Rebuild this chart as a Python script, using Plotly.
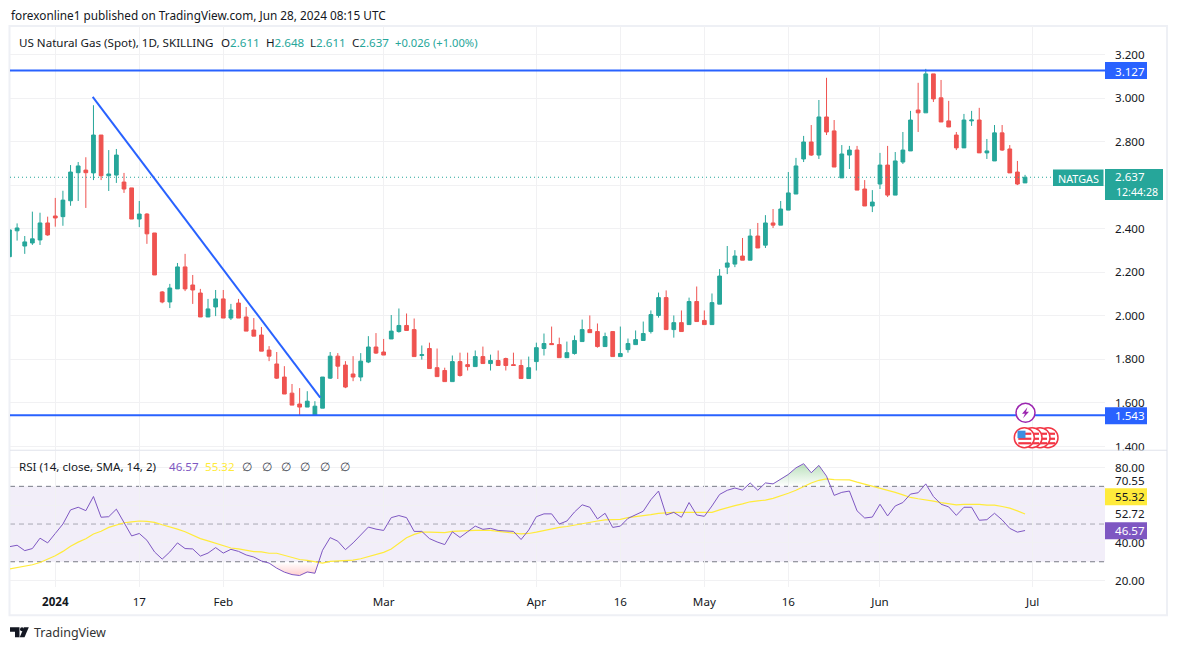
# US Natural Gas daily candles with RSI pane, TradingView look
import numpy as np
import plotly.graph_objects as go

W, H = 1177, 650

opens = [2.272,2.391,2.321,2.335,2.349,2.427,2.459,2.456,2.529,2.658,2.670,2.657,2.831,2.644,2.647,2.615,2.588,2.445,2.468,2.381,
         2.110,2.064,2.124,2.225,2.142,2.105,1.995,2.041,2.078,1.990,2.059,1.995,1.935,1.912,1.843,1.779,1.719,1.645,1.595,1.581,
         1.544,1.576,1.714,1.815,1.774,1.733,1.719,1.788,1.857,1.834,1.894,1.928,1.956,1.937,1.818,1.850,1.762,1.749,1.698,1.790,
         1.776,1.767,1.813,1.781,1.795,1.804,1.776,1.772,1.712,1.790,1.850,1.873,1.868,1.808,1.827,1.882,1.937,1.928,1.859,1.928,
         1.813,1.845,1.868,1.887,1.928,2.002,2.084,1.937,1.969,1.960,2.066,1.979,1.960,2.054,2.224,2.238,2.275,2.256,2.367,2.325,
         2.427,2.417,2.486,2.560,2.721,2.799,2.739,2.914,2.850,2.634,2.739,2.762,2.583,2.505,2.606,2.693,2.555,2.707,2.758,2.946,
         2.933,3.112,3.002,2.896,2.831,2.772,2.896,2.900,2.749,2.712,2.841,2.767,2.661,2.611]
highs = [2.395,2.425,2.367,2.479,2.474,2.456,2.542,2.575,2.693,2.707,2.729,2.968,2.831,2.762,2.767,2.657,2.588,2.528,2.472,2.381,
         2.114,2.147,2.243,2.285,2.188,2.124,2.078,2.119,2.119,2.055,2.078,2.041,1.990,1.949,1.861,1.834,1.769,1.687,1.668,1.654,
         1.608,1.719,1.834,1.829,1.792,1.815,1.829,1.907,1.921,1.894,2.004,2.034,2.011,1.988,1.864,1.877,1.850,1.762,1.818,1.831,
         1.831,1.841,1.859,1.822,1.841,1.808,1.831,1.799,1.813,1.877,1.919,1.951,1.900,1.882,1.910,1.983,2.002,1.965,1.923,1.928,
         1.951,1.896,1.933,1.974,2.025,2.107,2.117,2.002,2.025,2.084,2.135,2.025,2.103,2.215,2.321,2.302,2.358,2.399,2.427,2.463,
         2.491,2.528,2.661,2.726,2.827,2.877,2.992,3.094,2.900,2.785,2.781,2.781,2.624,2.578,2.749,2.781,2.753,2.845,2.942,3.071,
         3.135,3.112,3.084,2.988,2.845,2.928,2.942,2.956,2.813,2.877,2.877,2.785,2.712,2.648]
lows = [2.272,2.346,2.285,2.326,2.326,2.368,2.410,2.414,2.506,2.528,2.496,2.624,2.624,2.574,2.611,2.565,2.445,2.408,2.331,2.188,
        2.058,2.036,2.124,2.114,2.055,1.995,1.995,1.999,1.990,1.981,1.990,1.930,1.907,1.838,1.792,1.710,1.641,1.590,1.544,1.581,
        1.544,1.576,1.710,1.710,1.668,1.700,1.700,1.783,1.825,1.820,1.894,1.923,1.933,1.813,1.799,1.758,1.721,1.698,1.698,1.721,
        1.749,1.767,1.781,1.749,1.772,1.749,1.772,1.712,1.712,1.749,1.818,1.868,1.808,1.808,1.822,1.882,1.923,1.854,1.859,1.813,
        1.813,1.831,1.868,1.887,1.919,1.992,1.937,1.900,1.928,1.960,1.974,1.960,1.960,2.054,2.192,2.224,2.256,2.256,2.312,2.312,
        2.404,2.417,2.486,2.560,2.707,2.735,2.721,2.831,2.684,2.634,2.675,2.578,2.505,2.477,2.583,2.546,2.555,2.698,2.758,2.845,
        2.933,2.983,2.891,2.868,2.762,2.772,2.873,2.749,2.721,2.712,2.758,2.657,2.601,2.611]
closes = [2.395,2.404,2.340,2.354,2.427,2.372,2.450,2.532,2.661,2.689,2.658,2.831,2.644,2.652,2.739,2.583,2.445,2.468,2.377,2.188,
          2.064,2.128,2.225,2.124,2.119,1.995,2.032,2.078,1.990,2.027,1.990,1.930,1.907,1.838,1.815,1.714,1.641,1.590,1.581,1.608,
          1.585,1.719,1.815,1.769,1.673,1.719,1.792,1.857,1.829,1.820,1.930,1.956,1.933,1.813,1.822,1.758,1.721,1.698,1.790,1.726,
          1.767,1.813,1.781,1.795,1.772,1.772,1.772,1.712,1.762,1.854,1.873,1.868,1.808,1.831,1.887,1.937,1.923,1.859,1.905,1.813,
          1.827,1.873,1.891,1.919,2.006,2.084,1.937,1.969,1.928,2.066,1.974,1.960,2.061,2.183,2.243,2.275,2.256,2.367,2.312,2.427,
          2.417,2.491,2.565,2.689,2.799,2.739,2.914,2.845,2.684,2.744,2.762,2.578,2.505,2.523,2.693,2.555,2.712,2.762,2.900,2.933,
          3.112,2.997,2.891,2.868,2.772,2.900,2.900,2.749,2.758,2.841,2.762,2.657,2.606,2.637]

rsi = [38.0,38.75,35.9,37.0,42.5,40.0,45.0,50.0,57.5,58.9,57.1,64.6,53.6,53.9,57.9,50.4,43.7,45.0,41.4,35.2,
       31.4,35.2,40.0,37.0,36.8,33.0,34.6,37.5,34.6,36.6,35.5,33.6,32.5,30.4,29.3,26.6,24.5,23.2,22.7,24.6,
       23.9,36.1,42.8,40.9,36.4,40.0,44.1,48.4,47.3,46.6,53.4,54.5,53.4,46.1,46.1,42.3,40.5,39.1,45.9,42.9,
       45.9,48.9,47.2,47.7,46.6,46.2,46.1,41.8,46.8,53.9,55.4,55.4,50.0,51.6,56.4,60.2,58.9,52.7,55.7,48.2,
       48.9,53.0,54.8,56.8,62.9,67.5,54.8,56.2,53.6,61.4,54.8,54.1,59.6,65.7,67.9,69.1,68.0,71.8,67.9,71.8,
       71.3,73.9,76.3,79.8,82.0,77.2,81.1,75.4,65.2,66.8,67.5,57.0,53.2,53.7,60.5,54.3,59.6,61.4,65.9,66.6,
       71.3,64.6,60.5,59.1,54.6,58.9,58.9,52.0,52.3,55.7,52.2,47.7,45.7,46.57]
rsi_ma = [26.2,26.9,27.5,28.4,29.6,31.2,33.2,35.5,38.2,40.4,42.2,44.7,46.2,48.2,49.6,50.7,51.2,51.6,51.4,50.9,
          49.6,48.6,47.3,45.9,44.1,42.3,41.1,39.8,38.2,37.3,36.8,36.1,35.4,35.2,34.5,34.5,33.4,32.3,31.2,30.7,
          30.0,29.3,30.2,30.5,30.5,30.9,31.6,32.7,33.7,35.0,36.8,39.6,42.7,44.5,45.7,45.7,45.5,45.5,46.1,46.4,
          46.6,46.6,46.6,46.6,46.1,45.5,45.2,44.8,45.0,45.7,46.6,47.7,48.2,48.7,49.5,50.2,51.1,51.6,52.2,52.3,
          52.5,53.4,53.9,54.3,55.0,55.7,56.1,56.2,56.2,56.2,56.1,56.1,56.2,57.5,58.8,59.8,60.7,61.8,62.3,62.7,
          63.6,64.8,66.3,67.9,70.0,71.8,73.2,73.9,73.6,73.4,73.4,72.2,71.1,70.0,69.3,67.9,66.8,65.5,64.1,63.4,
          62.9,62.2,61.4,60.7,60.2,60.4,60.5,60.4,60.0,60.0,59.3,58.4,57.0,55.32]

# bar numbers: 0 is 2 Jan 2024
bars = list(range(-6, 128))
tick_bars = [0, 11, 22, 43, 63, 74, 85, 96, 108, 128]
tick_labels = ["<b>2024</b>", "17", "Feb", "Mar", "Apr", "16", "May", "16", "Jun", "Jul"]

price_ticks = [1.4, 1.6, 1.8, 2.0, 2.2, 2.4, 2.6, 2.8, 3.0, 3.2]
# 2.600 sits behind the last price tag in the reference
price_tick_labels = ["1.400", "1.600", "1.800", "2.000", "2.200", "2.400", "", "2.800", "3.000", "3.200"]
rsi_ticks = [20, 40, 60, 80]
rsi_tick_labels = ["20.00", "40.00", "", "80.00"]

resistance = 3.127
support = 1.543
last_close = 2.637
trend_x = [4.9, 34.7]
trend_y = [3.006, 1.624]

GREEN = "#26a69a"
RED = "#ef5350"
BLUE = "#2962ff"
PURPLE = "#7e57c2"
YELLOW = "#ffeb3b"
GRID = "#f1f1f3"
EDGE = "#eef0f5"
TEXT = "#131722"
FONT = "Noto Sans"
FS = 11.6
X_RANGE = [-5.93, 137.47]
Y_FIX = 1.005  # the photographed page comes out a little short


def px(x):
    return x / W


def py(y):
    return 1 - y * Y_FIX / H


def box(x0, y0, x1, y1, fill, line=None, width=0, kind="rect"):
    return dict(type=kind, xref="paper", yref="paper", x0=px(x0), x1=px(x1), y0=py(y0), y1=py(y1),
                fillcolor=fill, line=dict(color=line or fill, width=width), layer="above")


def poly(points, fill):
    path = "M" + " L".join(f"{px(a):.5f} {py(b):.5f}" for a, b in points) + " Z"
    return dict(type="path", xref="paper", yref="paper", path=path, fillcolor=fill,
                line=dict(width=0), layer="above")


def label(x, y, text, size=FS, color=TEXT, anchor="left"):
    return dict(xref="paper", yref="paper", x=px(x), y=py(y), text=text, showarrow=False,
                xanchor=anchor, yanchor="middle", align="left", borderpad=0,
                font=dict(family=FONT, size=size, color=color))


fig = go.Figure()

fig.add_trace(go.Candlestick(
    x=bars, open=opens, high=highs, low=lows, close=closes,
    increasing=dict(line=dict(color=GREEN, width=1), fillcolor=GREEN),
    decreasing=dict(line=dict(color=RED, width=1), fillcolor=RED),
    whiskerwidth=0, showlegend=False, hoverinfo="skip",
))

line_x = [X_RANGE[0], X_RANGE[1]]
fig.add_trace(go.Scatter(x=line_x, y=[last_close, last_close], mode="lines",
                         line=dict(color=GREEN, width=1, dash="1px,3px"), showlegend=False))
fig.add_trace(go.Scatter(x=line_x, y=[resistance, resistance], mode="lines",
                         line=dict(color=BLUE, width=2), showlegend=False))
fig.add_trace(go.Scatter(x=line_x, y=[support, support], mode="lines",
                         line=dict(color=BLUE, width=2), showlegend=False))
fig.add_trace(go.Scatter(x=trend_x, y=trend_y, mode="lines",
                         line=dict(color=BLUE, width=2), showlegend=False))

# RSI gradient fills past the 70 and 30 levels
xf = np.linspace(bars[0], bars[-1], 2661)
rf = np.interp(xf, bars, rsi)
fig.add_trace(go.Scatter(x=xf, y=np.full(xf.size, 70.0), xaxis="x2", yaxis="y2", mode="lines",
                         line=dict(width=0), showlegend=False, hoverinfo="skip"))
fig.add_trace(go.Scatter(x=xf, y=np.maximum(rf, 70), xaxis="x2", yaxis="y2", mode="lines",
                         line=dict(width=0), fill="tonexty", showlegend=False, hoverinfo="skip",
                         fillgradient=dict(type="vertical", start=84, stop=70, colorscale=[
                             [0, "rgba(76,175,80,0.45)"], [1, "rgba(76,175,80,0)"]])))
fig.add_trace(go.Scatter(x=xf, y=np.full(xf.size, 30.0), xaxis="x2", yaxis="y2", mode="lines",
                         line=dict(width=0), showlegend=False, hoverinfo="skip"))
fig.add_trace(go.Scatter(x=xf, y=np.minimum(rf, 30), xaxis="x2", yaxis="y2", mode="lines",
                         line=dict(width=0), fill="tonexty", showlegend=False, hoverinfo="skip",
                         fillgradient=dict(type="vertical", start=20, stop=30, colorscale=[
                             [0, "rgba(255,82,82,0.4)"], [1, "rgba(255,82,82,0)"]])))

fig.add_trace(go.Scatter(x=bars, y=rsi_ma, xaxis="x2", yaxis="y2", mode="lines",
                         line=dict(color=YELLOW, width=1.2), showlegend=False))
fig.add_trace(go.Scatter(x=bars, y=rsi, xaxis="x2", yaxis="y2", mode="lines",
                         line=dict(color=PURPLE, width=1), showlegend=False))

shapes = [
    dict(type="rect", xref="paper", yref="y2", x0=px(10), x1=px(1105), y0=30, y1=70,
         fillcolor="rgba(126,87,194,0.1)", line=dict(width=0), layer="below"),
]
for level, col in [(70, "#787b86"), (50, "rgba(120,123,134,0.6)"), (30, "#787b86")]:
    shapes.append(dict(type="line", xref="paper", yref="y2", x0=px(10), x1=px(1105), y0=level, y1=level,
                       line=dict(color=col, width=1, dash="5px,4px"), layer="below"))

# chart frame and pane separator
shapes += [
    dict(type="rect", xref="paper", yref="paper", x0=px(9.5), x1=px(1167), y0=py(615), y1=py(26),
         line=dict(color=EDGE, width=2), fillcolor="rgba(0,0,0,0)", layer="below"),
    box(10, 449.5, 1167, 450.5, "#e0e3eb"),
]

# price tags on the right
shapes += [
    box(1105, 62, 1147, 79, BLUE),
    box(1105, 407, 1147, 424, BLUE),
    box(1053, 169.5, 1103.5, 186, GREEN),
    box(1105, 169, 1163, 200, GREEN),
    box(1105, 488, 1147, 505, YELLOW),
    box(1105, 522, 1147, 539, PURPLE),
]

# event markers
shapes.append(box(1016, 403.2, 1035, 422.2, "white", "#9c27b0", 1.5, "circle"))
shapes.append(poly([(1027.5, 407), (1022, 413.5), (1025, 413.5), (1023, 418), (1029, 411.5), (1026, 411.5)], "#9c27b0"))
for cx in [1048, 1040, 1032, 1024.3]:
    shapes.append(box(cx - 10, 427.5, cx + 10, 447.5, "white", "#f23645", 1.5, "circle"))
    for sy in [432.5, 437.5, 442]:
        shapes.append(box(cx - 6, sy, cx + 7, sy + 2.2, "#f23645"))
shapes.append(box(1017.5, 430.5, 1025.5, 438, "#3d8fe0"))

# TradingView logo
shapes += [
    poly([(10, 627), (19.5, 627), (19.5, 637), (15, 637), (15, 631.5), (10, 631.5)], TEXT),
    box(20, 627, 24, 631, TEXT, kind="circle"),
    poly([(28.8, 627), (24.5, 637), (19.7, 637), (24, 627)], TEXT),
]


def up(text):
    return f"<span style='color:{GREEN}'>{text}</span>"


annotations = [
    label(10, 15, "forexonline1 published on TradingView.com, Jun 28, 2024 08:15 UTC", size=11.8),
    label(18, 42, "US Natural Gas (Spot), 1D, SKILLING"),
    label(220, 42, "O" + up("2.611")),
    label(265, 42, "H" + up("2.648")),
    label(309, 42, "L" + up("2.611")),
    label(351, 42, "C" + up("2.637")),
    label(394, 42, up("+0.026 (+1.00%)"), size=11.2),
    label(18, 466, "RSI (14, close, SMA, 14, 2)"),
    label(168, 466, "46.57", color=PURPLE),
    label(204, 466, "55.32", color=YELLOW),
    label(33, 632, "TradingView", size=12.5, color="#333333"),
    label(1114, 71, "3.127", color="white"),
    label(1114, 415, "1.543", color="white"),
    label(1057, 178, "NATGAS", size=10.8, color="white"),
    label(1114, 176.5, "2.637", color="white"),
    label(1115, 192, "12:44:28", size=10.6, color="white"),
    label(1114, 480, "70.55"),
    label(1114, 496.5, "55.32"),
    label(1114, 513, "52.72"),
    label(1114, 530.5, "46.57", color="white"),
]
for sx in [241, 261, 280, 299, 319, 339]:
    annotations.append(label(sx, 466, "∅", color="#434651"))

axis_font = dict(family=FONT, size=FS, color=TEXT)

fig.update_layout(
    width=W, height=H,
    margin=dict(l=0, r=0, t=0, b=0),
    paper_bgcolor="white",
    plot_bgcolor="white",
    showlegend=False,
    hovermode=False,
    xaxis=dict(domain=[px(10), px(1105)], range=X_RANGE, anchor="y", tickvals=tick_bars, ticktext=[""] * len(tick_bars),
               showgrid=True, gridcolor=GRID, zeroline=False, showline=False, ticks="",
               rangeslider=dict(visible=False)),
    yaxis=dict(domain=[py(450), py(26)], range=[1.383, 3.332], side="right", tickvals=price_ticks,
               ticktext=price_tick_labels, showgrid=True, gridcolor=GRID, zeroline=False, showline=False, ticks="",
               ticklabelstandoff=9, tickfont=axis_font, anchor="x"),
    xaxis2=dict(domain=[px(10), px(1105)], range=X_RANGE, anchor="y2", tickvals=tick_bars, ticktext=tick_labels,
                showgrid=True, gridcolor=GRID, zeroline=False, showline=False, ticks="",
                ticklabelstandoff=6, tickfont=axis_font),
    yaxis2=dict(domain=[py(587), py(451)], range=[16.5, 88.65], side="right", tickvals=rsi_ticks,
                ticktext=rsi_tick_labels, showgrid=True, gridcolor=GRID, zeroline=False, showline=False, ticks="",
                ticklabelstandoff=9, tickfont=axis_font, anchor="x2"),
    shapes=shapes,
    annotations=annotations,
)

# pin the plot to the window corner so the page is exactly window sized
pin = ("document.body.style.margin='0';document.documentElement.style.overflow='hidden';"
       "var g=document.querySelector('.plotly-graph-div');"
       "g.style.position='fixed';g.style.left='0';g.style.top='0';")
fig.write_html("out.html", default_width=W, default_height=H,
               config=dict(displayModeBar=False, responsive=False), post_script=pin)
